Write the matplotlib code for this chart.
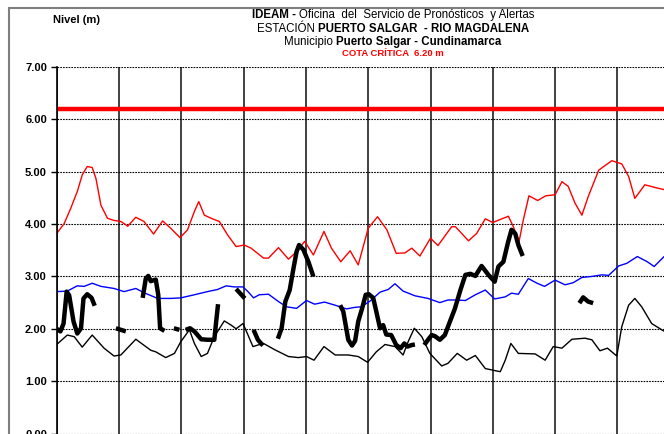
import numpy as np
import matplotlib
matplotlib.use("Agg")
import matplotlib.pyplot as plt
from matplotlib.patches import Rectangle

plt.rcParams['font.family'] = ['Liberation Sans', 'DejaVu Sans']

# --- data (x in days from the left axis, y = nivel in metres) ---
cota_critica = 6.20

max_x = [0, 0.12, 0.225, 0.33, 0.41, 0.49, 0.57, 0.63, 0.71, 0.815, 0.92, 1.03, 1.14, 1.27, 1.40,
         1.555, 1.70, 1.83, 1.98, 2.10, 2.21, 2.28, 2.37, 2.50, 2.61, 2.745, 2.88, 3.01, 3.12,
         3.32, 3.40, 3.56, 3.72, 3.85, 3.98, 4.12, 4.29, 4.41, 4.56, 4.71, 4.84, 5.00, 5.15,
         5.30, 5.45, 5.59, 5.70, 5.83, 6.00, 6.12, 6.34, 6.40, 6.61, 6.74, 6.88, 7.00, 7.25,
         7.33, 7.42, 7.49, 7.58, 7.72, 7.85, 8.00, 8.11, 8.21, 8.32, 8.43, 8.53, 8.70, 8.91,
         9.07, 9.18, 9.28, 9.44, 9.60, 9.74, 10.0]
max_y = [3.82, 4.01, 4.30, 4.62, 4.94, 5.10, 5.08, 4.87, 4.36, 4.11, 4.07, 4.05, 3.96, 4.13, 4.05,
         3.81, 4.06, 3.92, 3.74, 3.89, 4.24, 4.43, 4.17, 4.10, 4.05, 3.79, 3.57, 3.60, 3.54,
         3.35, 3.35, 3.55, 3.33, 3.47, 3.67, 3.41, 3.86, 3.54, 3.28, 3.49, 3.22, 3.92, 4.14,
         3.89, 3.44, 3.45, 3.54, 3.39, 3.73, 3.59, 3.95, 3.95, 3.68, 3.82, 4.10, 4.03, 4.15,
         3.95, 3.66, 4.08, 4.54, 4.45, 4.54, 4.56, 4.81, 4.72, 4.40, 4.17, 4.52, 5.03, 5.21,
         5.15, 4.91, 4.49, 4.75, 4.70, 4.66, 4.72]

mean_x = [0, 0.17, 0.33, 0.44, 0.57, 0.71, 0.92, 1.08, 1.27, 1.40, 1.62, 1.83, 1.99, 2.21, 2.42,
          2.58, 2.72, 2.85, 2.99, 3.07, 3.16, 3.25, 3.40, 3.56, 3.69, 3.85, 4.01, 4.14, 4.30,
          4.47, 4.65, 4.79, 4.89, 5.03, 5.19, 5.32, 5.43, 5.56, 5.75, 5.96, 6.15, 6.28, 6.40,
          6.56, 6.72, 6.88, 7.03, 7.20, 7.30, 7.41, 7.57, 7.71, 7.83, 8.00, 8.16, 8.29, 8.43,
          8.59, 8.75, 8.86, 9.02, 9.15, 9.32, 9.48, 9.59, 9.75, 10.0]
mean_y = [2.71, 2.72, 2.82, 2.81, 2.87, 2.81, 2.77, 2.71, 2.77, 2.69, 2.58, 2.58, 2.59, 2.65, 2.71,
          2.75, 2.82, 2.80, 2.80, 2.71, 2.59, 2.65, 2.66, 2.52, 2.42, 2.39, 2.54, 2.47, 2.51,
          2.45, 2.38, 2.41, 2.42, 2.53, 2.70, 2.75, 2.86, 2.72, 2.63, 2.58, 2.50, 2.55, 2.55,
          2.54, 2.65, 2.74, 2.57, 2.61, 2.68, 2.66, 2.96, 2.87, 2.81, 2.93, 2.84, 2.88, 2.98,
          3.00, 3.03, 3.02, 3.20, 3.25, 3.38, 3.28, 3.19, 3.38, 3.40]

min_x = [0, 0.17, 0.28, 0.41, 0.57, 0.76, 0.92, 1.03, 1.27, 1.51, 1.59, 1.75, 1.89, 1.99, 2.13,
         2.21, 2.32, 2.42, 2.53, 2.69, 2.80, 2.88, 2.99, 3.06, 3.15, 3.23, 3.32, 3.50, 3.72,
         3.88, 4.01, 4.13, 4.29, 4.47, 4.68, 4.84, 4.99, 5.13, 5.27, 5.43, 5.56, 5.64, 5.74,
         5.86, 5.99, 6.18, 6.28, 6.43, 6.58, 6.72, 6.88, 7.12, 7.20, 7.29, 7.41, 7.68, 7.84,
         7.97, 8.11, 8.27, 8.48, 8.59, 8.72, 8.84, 8.99, 9.07, 9.18, 9.28, 9.39, 9.55, 9.74, 10.0]
min_y = [1.70, 1.88, 1.85, 1.65, 1.88, 1.63, 1.48, 1.50, 1.80, 1.59, 1.56, 1.45, 1.53, 1.75, 1.98,
         1.72, 1.47, 1.53, 1.85, 2.15, 2.07, 2.00, 2.10, 1.91, 1.66, 1.69, 1.72, 1.60, 1.47,
         1.45, 1.47, 1.40, 1.66, 1.50, 1.50, 1.47, 1.36, 1.56, 1.70, 1.66, 1.50, 1.75, 2.01,
         1.85, 1.53, 1.29, 1.34, 1.53, 1.40, 1.49, 1.24, 1.18, 1.40, 1.72, 1.53, 1.52, 1.40,
         1.66, 1.63, 1.80, 1.82, 1.79, 1.58, 1.63, 1.48, 2.04, 2.45, 2.58, 2.42, 2.10, 1.96, 1.94]

# current levels, NaN = no reading
act_x = [0, 0.06, 0.11, 0.16, 0.20, 0.27, 0.33, 0.39, 0.43, 0.49, 0.56, 0.61, np.nan,
         0.95, 1.11, np.nan,
         1.38, 1.43, 1.47, 1.51, 1.59, 1.63, 1.66, 1.73, np.nan,
         1.88, 1.97, np.nan,
         2.07, 2.14, 2.21, 2.32, 2.42, 2.53, 2.56, 2.59, np.nan,
         2.88, 3.02, np.nan,
         3.16, 3.23, 3.31, np.nan,
         3.55, 3.61, 3.67, 3.74, 3.80, 3.85, 3.89, 3.96, 4.04, 4.12, np.nan,
         4.55, 4.60, 4.68, 4.74, 4.79, 4.84, 4.90, 4.96, 5.01, 5.08, 5.13, 5.19, 5.24, 5.29,
         5.37, 5.45, 5.52, 5.58, 5.63, 5.70, 5.75, np.nan,
         5.90, 5.96, 6.02, 6.07, 6.15, 6.23, 6.29, 6.39, 6.48, 6.56, 6.64, 6.72, 6.82, 6.93,
         7.03, 7.09, 7.17, 7.24, 7.30, 7.36, 7.41, 7.48, np.nan,
         8.39, 8.45, 8.53, 8.61]
act_y = [2.00, 1.95, 2.10, 2.71, 2.64, 2.14, 1.91, 2.01, 2.58, 2.66, 2.59, 2.44, np.nan,
         2.01, 1.95, np.nan,
         2.59, 2.96, 3.01, 2.91, 2.94, 2.65, 2.01, 1.96, np.nan,
         2.01, 1.98, np.nan,
         1.98, 2.01, 1.95, 1.80, 1.79, 1.79, 2.14, 2.47, np.nan,
         2.76, 2.58, np.nan,
         1.98, 1.79, 1.68, np.nan,
         1.81, 2.01, 2.52, 2.74, 3.15, 3.47, 3.60, 3.51, 3.28, 3.00, np.nan,
         2.45, 2.33, 1.79, 1.68, 1.77, 2.14, 2.38, 2.65, 2.66, 2.59, 2.33, 2.01, 2.07, 1.89,
         1.88, 1.69, 1.63, 1.72, 1.66, 1.69, 1.70, np.nan,
         1.69, 1.79, 1.88, 1.86, 1.79, 1.88, 2.07, 2.38, 2.74, 3.03, 3.05, 3.01, 3.20, 3.03,
         2.90, 3.19, 3.28, 3.63, 3.89, 3.82, 3.60, 3.39, np.nan,
         2.49, 2.60, 2.52, 2.49]

y_ticks = [0, 1, 2, 3, 4, 5, 6, 7]
x_days = list(range(0, 11))

W, H = 664, 434
fig = plt.figure(figsize=(W / 100, H / 100), dpi=100)

# outer frame of the original sheet (cropped on right and bottom)
fig.patches.append(Rectangle((9 / W, -0.1), 1.2, 1 - 8 / H + 0.1, transform=fig.transFigure,
                             fill=False, edgecolor='#7f7f7f', linewidth=1.5))

# plot area: extends past the right edge of the picture
ax = fig.add_axes([56.7 / W, 0.5 / H, 623 / W, 366.5 / H])
ax.set_xlim(0, 10)
ax.set_ylim(0, 7)

ax.set_yticks(y_ticks)
ax.set_yticklabels([f"{v:.2f}" for v in y_ticks], fontsize=8, fontweight='bold')
ax.set_xticks(x_days)
ax.set_xticklabels([])
ax.tick_params(axis='y', length=4, width=1, pad=3)
ax.tick_params(axis='x', length=0)

ax.grid(axis='y', color='black', linestyle=(0, (1.5, 1)), linewidth=0.8)
ax.grid(axis='x', color='#333333', linestyle='-', linewidth=1.3)
ax.set_axisbelow(True)
for s in ['top', 'right']:
    ax.spines[s].set_visible(False)
ax.spines['left'].set_linewidth(1.2)
ax.spines['bottom'].set_visible(False)

ax.axhline(cota_critica, color='red', linewidth=3.2)
ax.plot(max_x, max_y, color='red', linewidth=1, solid_joinstyle='round')
ax.plot(mean_x, mean_y, color='blue', linewidth=1, solid_joinstyle='round')
ax.plot(min_x, min_y, color='black', linewidth=1, solid_joinstyle='round')
ax.plot(act_x, act_y, color='black', linewidth=3.2, solid_capstyle='butt',
        solid_joinstyle='round')

fig.text(53 / W, 1 - 20 / H, "Nivel (m)", fontsize=8, fontweight='bold', va='center')


def mixed_line(y_px, parts, size, color='black', xc=393):
    renderer = fig.canvas.get_renderer()
    texts = []
    for s, bold in parts:
        t = fig.text(0, 1 - y_px / H, s, fontsize=size, color=color,
                     fontweight='bold' if bold else 'normal', va='center')
        texts.append(t)
    gap = size * 0.4
    widths = [t.get_window_extent(renderer).width for t in texts]
    total = sum(widths) + gap * (len(texts) - 1)
    x = xc - total / 2
    for t, w in zip(texts, widths):
        t.set_x(x / W)
        x += w + gap


mixed_line(15, [("IDEAM -", True), ("Oficina  del  Servicio de Pronósticos  y Alertas", False)], 8.3)
mixed_line(28.5, [("ESTACIÓN", False), ("PUERTO SALGAR  - RIO MAGDALENA", True)], 8.3)
mixed_line(41.5, [("Municipio", False), ("Puerto Salgar - Cundinamarca", True)], 8.3)
mixed_line(53, [("COTA CRÍTICA  6.20 m", True)], 6.8, color='red')

fig.savefig("out.png", dpi=100)
